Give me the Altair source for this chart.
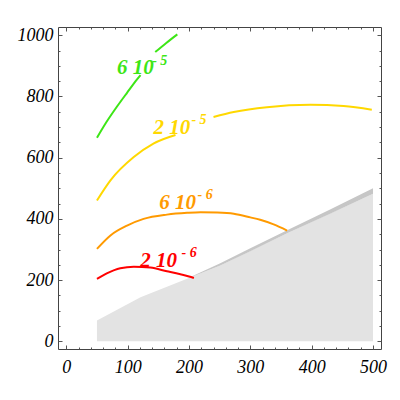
import altair as alt
import pandas as pd

# ---- data ----
# contour lines (each label has gaps where the label sits)
green_x1 = [50, 66, 83, 99, 115, 121]
green_y1 = [665, 718, 768, 812, 855, 870]
green_x2 = [145, 163, 181]
green_y2 = [945, 975, 1003]

yellow_x1 = [50, 72, 110, 142, 178]
yellow_y1 = [460, 526, 602, 646, 674]
yellow_x2 = [240, 273, 327, 398, 452, 498]
yellow_y2 = [733, 749, 765, 773, 769, 757]

orange_x = [50, 72, 99, 126, 164, 197, 219, 246, 273, 300, 316, 338, 360]
orange_y = [302, 346, 378, 400, 414, 420, 422, 421, 417, 405, 397, 382, 362]

red_x = [50, 66, 88, 110, 137, 164, 186, 200, 208]
red_y = [204, 222, 239, 244, 241, 229, 219, 212, 207]

# shaded region
light_x = [50, 121, 202, 251, 360, 500]
light_y = [68, 144, 209, 248, 353, 482]
dark_x = [205, 251, 300, 360, 430, 500]
dark_lo = [211, 248, 294, 353, 417, 482]
dark_hi = [213, 255, 304, 363, 431, 500]

# contour labels
label_main = ["6 10", "2 10", "6 10", "2 10"]
label_sup = ["- 5", "- 5", "- 6", "- 6"]
label_series = ["g", "y", "o", "r"]
label_x = [82.6, 142.3, 151.6, 120.6]
label_y = [875, 678, 434, 242]
sup_x = [140, 204, 214, 188]
sup_y = [904, 709, 466, 275]

x_major = [0, 100, 200, 300, 400, 500]
y_major = [0, 200, 400, 600, 800, 1000]
x_minor = [v for v in range(0, 501, 20) if v % 100 != 0]
y_minor = [v for v in range(0, 1001, 50) if v % 200 != 0]

XDOM = [-13.5, 513]
YDOM = [-25, 1027]

series_dom = ["g", "y", "o", "r"]
series_col = ["#3de616", "#ffd800", "#ff9a00", "#ff0000"]

# ---- build tables ----
rows = []
def add(name, seg, xs, ys):
    for i, (a, b) in enumerate(zip(xs, ys)):
        rows.append({"s": name, "seg": seg, "i": i, "x": a, "y": b})

add("g", "g1", green_x1, green_y1)
add("g", "g2", green_x2, green_y2)
add("y", "y1", yellow_x1, yellow_y1)
add("y", "y2", yellow_x2, yellow_y2)
add("o", "o1", orange_x, orange_y)
add("r", "r1", red_x, red_y)
lines_df = pd.DataFrame(rows)

light_df = pd.DataFrame({"x": light_x, "y": light_y, "base": [0] * len(light_x)})
dark_df = pd.DataFrame({"x": dark_x, "lo": dark_lo, "hi": dark_hi})
lab_df = pd.DataFrame({"s": label_series, "t": label_main, "sup": label_sup,
                       "x": label_x, "y": label_y, "sx": sup_x, "sy": sup_y})
dummy = pd.DataFrame({"x": [0], "y": [0]})

xs = alt.Scale(domain=XDOM, nice=False, zero=False)
ys = alt.Scale(domain=YDOM, nice=False, zero=False)
cs = alt.Scale(domain=series_dom, range=series_col)

FONT = "Liberation Serif"
TICK = "#555555"

def tick_axis(orient, values, size, labels=False, pad=5):
    kw = dict(orient=orient, values=values, offset=-size, tickSize=size,
              tickColor=TICK, tickWidth=1, domain=False, grid=False, title=None,
              labels=labels)
    if labels:
        kw.update(labelFont=FONT, labelFontSize=18, labelFontStyle="italic",
                  labelColor="black", labelPadding=pad, format="d")
    return alt.Axis(**kw)

light = alt.Chart(light_df).mark_area(color="#e3e3e3").encode(
    x=alt.X("x:Q", scale=xs, axis=tick_axis("bottom", x_major, 4, True, 9)),
    y=alt.Y("y:Q", scale=ys, axis=tick_axis("left", y_major, 4, True, 5)),
    y2=alt.Y2("base:Q"),
)

dark = alt.Chart(dark_df).mark_area(color="#c6c6c6").encode(
    x=alt.X("x:Q", scale=xs, axis=None),
    y=alt.Y("hi:Q", scale=ys, axis=None),
    y2=alt.Y2("lo:Q"),
)

minor_bl = alt.Chart(dummy).mark_point(opacity=0).encode(
    x=alt.X("x:Q", scale=xs, axis=tick_axis("bottom", x_minor, 2)),
    y=alt.Y("y:Q", scale=ys, axis=tick_axis("left", y_minor, 2)),
)
major_tr = alt.Chart(dummy).mark_point(opacity=0).encode(
    x=alt.X("x:Q", scale=xs, axis=tick_axis("top", x_major, 4)),
    y=alt.Y("y:Q", scale=ys, axis=tick_axis("right", y_major, 4)),
)
minor_tr = alt.Chart(dummy).mark_point(opacity=0).encode(
    x=alt.X("x:Q", scale=xs, axis=tick_axis("top", x_minor, 2)),
    y=alt.Y("y:Q", scale=ys, axis=tick_axis("right", y_minor, 2)),
)

lines = alt.Chart(lines_df).mark_line(strokeWidth=2, interpolate="monotone").encode(
    x=alt.X("x:Q", scale=xs, axis=None),
    y=alt.Y("y:Q", scale=ys, axis=None),
    color=alt.Color("s:N", scale=cs, legend=None),
    detail="seg:N",
    order="i:Q",
)

main_txt = alt.Chart(lab_df).mark_text(
    font=FONT, fontSize=21, fontStyle="italic", fontWeight="bold",
    align="left", baseline="alphabetic",
).encode(
    x=alt.X("x:Q", scale=xs, axis=None),
    y=alt.Y("y:Q", scale=ys, axis=None),
    text="t:N",
    color=alt.Color("s:N", scale=cs, legend=None),
)

sup_txt = alt.Chart(lab_df).mark_text(
    font=FONT, fontSize=14, fontStyle="italic", fontWeight="bold",
    align="left", baseline="alphabetic",
).encode(
    x=alt.X("sx:Q", scale=xs, axis=None),
    y=alt.Y("sy:Q", scale=ys, axis=None),
    text="sup:N",
    color=alt.Color("s:N", scale=cs, legend=None),
)

chart = alt.layer(
    light, dark, minor_bl, major_tr, minor_tr, lines, main_txt, sup_txt
).resolve_axis(
    x="independent", y="independent"
).properties(
    width=323, height=322,
    autosize=alt.AutoSizeParams(type="none"),
    padding={"left": 50, "top": 19, "right": 10, "bottom": 30},
    background="white",
).configure_view(
    stroke="#444444", strokeWidth=1
)

chart.save("out.html", embed_options={"renderer": "svg", "actions": False})
